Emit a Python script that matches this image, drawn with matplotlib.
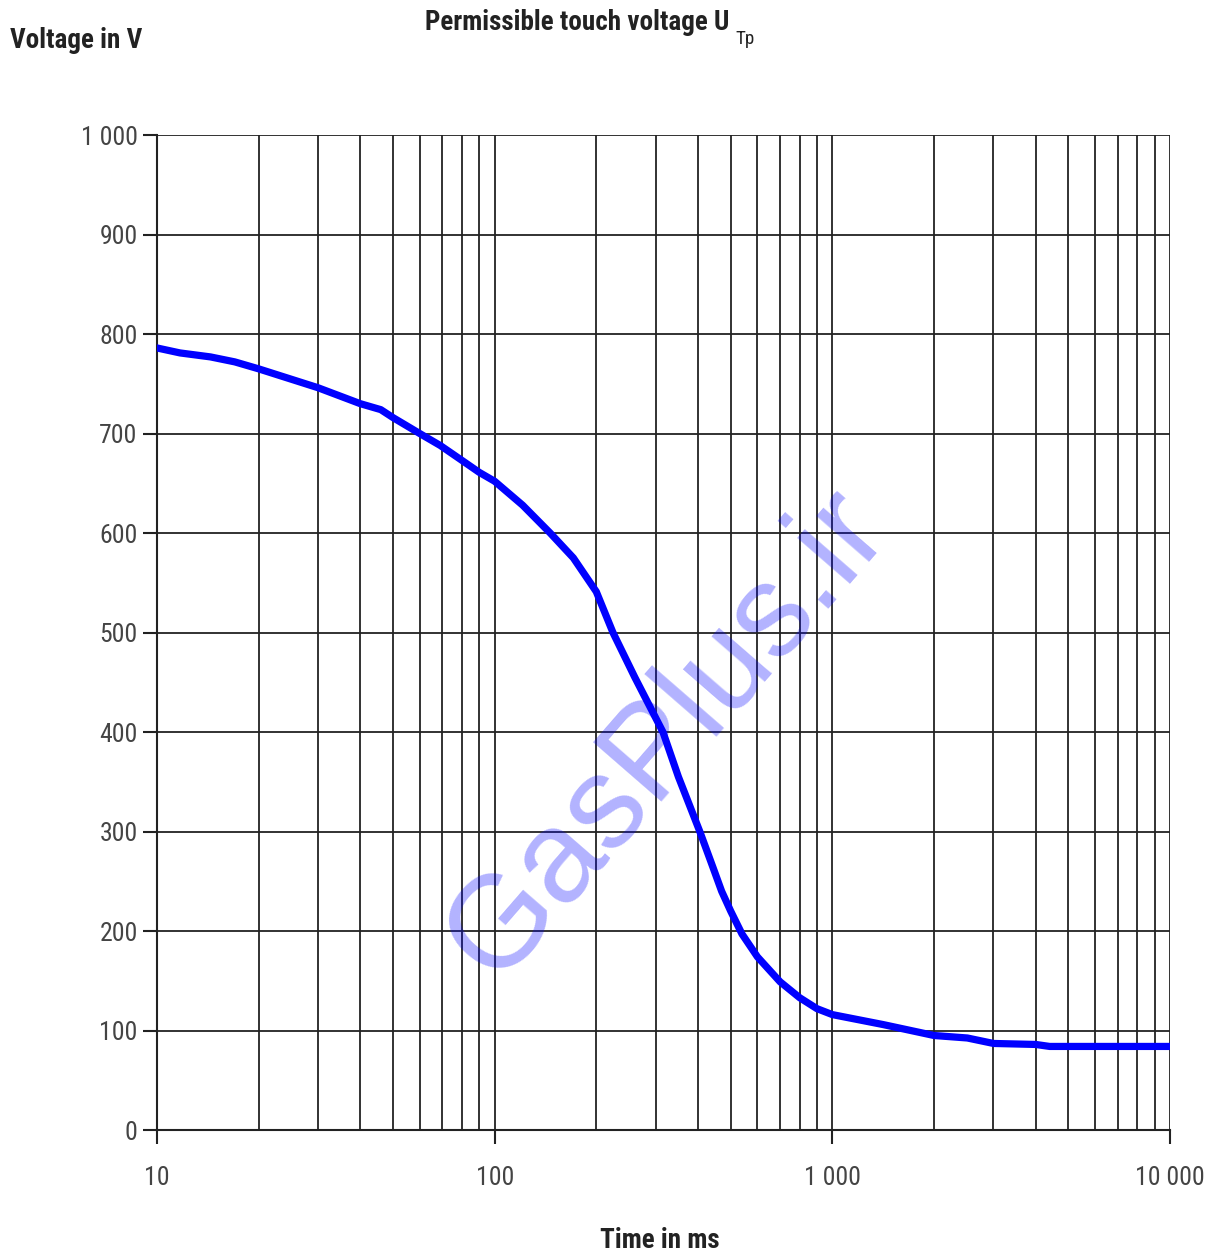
import matplotlib

matplotlib.use("Agg")
import matplotlib.pyplot as plt
import numpy as np
from matplotlib import font_manager as fm
from matplotlib.ticker import FixedLocator, FuncFormatter, LogLocator, NullFormatter

# permissible touch voltage curve
time_ms = [10, 11.7, 14.4, 17, 20, 30, 40, 46, 50, 60, 69, 80, 90, 100, 121, 146, 171,
           200, 224, 260, 300, 315, 350, 405, 443, 470, 500, 540, 600, 700, 800, 900,
           1000, 1413, 2000, 2510, 3000, 4000, 4400, 10000]
voltage_v = [786, 781, 777, 772, 765, 746, 730, 724, 716, 700, 688, 673, 661, 652, 628, 600, 575,
             541, 500, 455, 414, 400, 355, 300, 264, 240, 220, 197, 174, 149, 133, 122,
             116, 106, 95, 92.5, 87, 86, 84, 84]

y_ticks = list(range(0, 1001, 100))
x_ticks = [10, 100, 1000, 10000]

# the original uses an Arial Narrow look; prefer a narrow face, else plain Liberation Sans
font_choice = (["Liberation Sans", "DejaVu Sans"], "normal", 17.0, 17.0)
for key, tick_size, label_size in (("LiberationSansNarrow", 20.0, 21.0), ("RobotoCondensed", 18.5, 19.5)):
    hits = [f for f in fm.fontManager.ttflist if key in f.fname.replace("-", "").replace("_", "")]
    if hits:
        font_choice = ([hits[0].name, "DejaVu Sans"], hits[0].stretch, tick_size, label_size)
        break
family, stretch, tsize, lsize = font_choice
plt.rcParams["font.family"] = family
plt.rcParams["font.stretch"] = stretch


def _spaced(v, _pos=None):
    return f"{int(round(v)):,}".replace(",", " ")


fig = plt.figure(figsize=(12.13, 12.56), dpi=100)
ax = fig.add_axes([0.1294, 0.1003, 0.8352, 0.7922])

ax.plot(time_ms, voltage_v, color="#0000ff", linewidth=5.2, solid_joinstyle="round", zorder=3)

ax.set_xscale("log")
ax.set_xlim(10, 10000)
ax.set_ylim(0, 1000)
ax.xaxis.set_major_locator(FixedLocator(x_ticks))
ax.xaxis.set_minor_locator(LogLocator(base=10, subs=np.arange(2, 10)))
ax.xaxis.set_minor_formatter(NullFormatter())
ax.xaxis.set_major_formatter(FuncFormatter(_spaced))
ax.yaxis.set_major_locator(FixedLocator(y_ticks))
ax.yaxis.set_major_formatter(FuncFormatter(_spaced))

ax.grid(which="both", axis="x", color="#222222", linewidth=1.3)
ax.grid(which="major", axis="y", color="#222222", linewidth=1.3)
ax.set_axisbelow(True)

for side in ("top", "right"):
    ax.spines[side].set_visible(False)
for side in ("left", "bottom"):
    ax.spines[side].set_color("#222222")
    ax.spines[side].set_linewidth(1.5)

ax.tick_params(axis="both", which="major", direction="out", length=10, width=1.5,
               color="#222222", labelsize=tsize, labelcolor="#444444")
ax.tick_params(axis="x", which="minor", length=0)
ax.tick_params(axis="x", pad=16)
ax.tick_params(axis="y", pad=4)

fig.text(0.008, 0.968, "Voltage in V", fontsize=lsize, fontweight="bold", color="#222222",
         ha="left", va="center")
title = fig.text(0.35, 0.982, "Permissible touch voltage U", fontsize=lsize, fontweight="bold",
                 color="#222222", ha="left", va="center")
ax.annotate("Tp", xy=(1, 0), xycoords=title, xytext=(5, -2), textcoords="offset points",
            fontsize=lsize * 0.7, color="#222222", ha="left", va="center", annotation_clip=False)
fig.text(0.544, 0.012, "Time in ms", fontsize=lsize, fontweight="bold", color="#222222",
         ha="center", va="center")

# watermark
fig.text(0.55, 0.415, "GasPlus.ir", fontsize=94, color="#0000ff", alpha=0.3,
         rotation=49, ha="center", va="center", family=["Liberation Sans", "DejaVu Sans"],
         stretch="normal")

fig.savefig("out.png", dpi=100)
